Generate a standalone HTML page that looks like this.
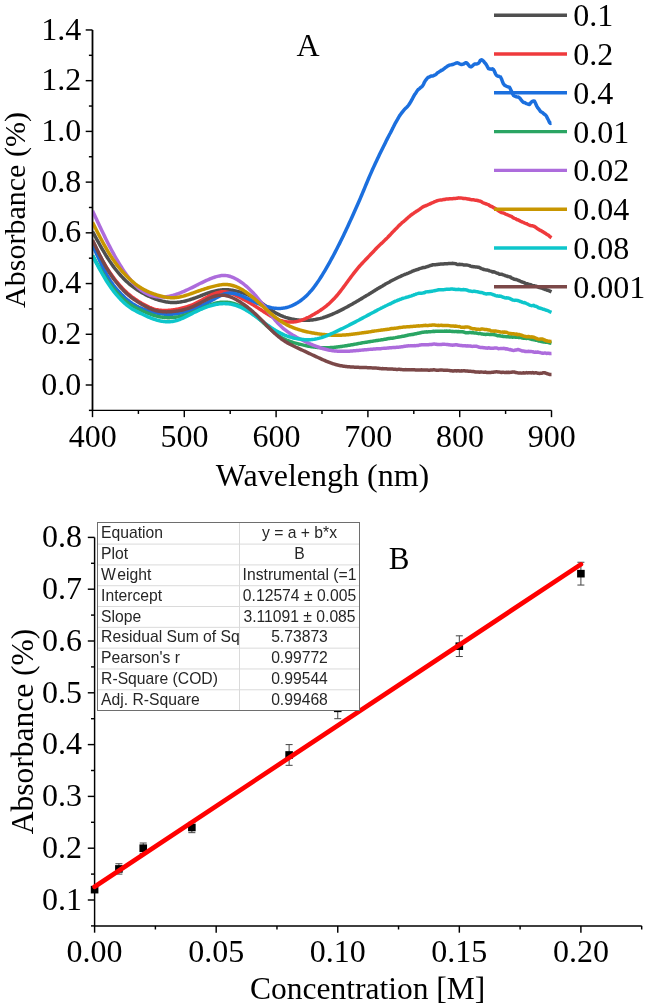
<!DOCTYPE html>
<html><head><meta charset="utf-8"><style>
html,body{margin:0;padding:0;background:#fff;width:646px;height:1008px;overflow:hidden}
svg{display:block;will-change:transform}

</style></head><body>
<svg width="646" height="1008" viewBox="0 0 646 1008"><g stroke="#000" stroke-width="1.45" fill="none" stroke-linecap="butt">
<path d="M92.5,29.96 L92.5,410.36 L551.5,410.36"/>
<path d="M88.90,410.36 H92.5"/>
<path d="M85.70,385.00 H92.5"/>
<path d="M88.90,359.64 H92.5"/>
<path d="M85.70,334.28 H92.5"/>
<path d="M88.90,308.92 H92.5"/>
<path d="M85.70,283.56 H92.5"/>
<path d="M88.90,258.20 H92.5"/>
<path d="M85.70,232.84 H92.5"/>
<path d="M88.90,207.48 H92.5"/>
<path d="M85.70,182.12 H92.5"/>
<path d="M88.90,156.76 H92.5"/>
<path d="M85.70,131.40 H92.5"/>
<path d="M88.90,106.04 H92.5"/>
<path d="M85.70,80.68 H92.5"/>
<path d="M88.90,55.32 H92.5"/>
<path d="M85.70,29.96 H92.5"/>
<path d="M92.50,410.36 V417.16"/>
<path d="M138.40,410.36 V413.96"/>
<path d="M184.30,410.36 V417.16"/>
<path d="M230.20,410.36 V413.96"/>
<path d="M276.10,410.36 V417.16"/>
<path d="M322.00,410.36 V413.96"/>
<path d="M367.90,410.36 V417.16"/>
<path d="M413.80,410.36 V413.96"/>
<path d="M459.70,410.36 V417.16"/>
<path d="M505.60,410.36 V413.96"/>
<path d="M551.50,410.36 V417.16"/>
</g>
<text x="81.3" y="394.60" font-family="&quot;Liberation Serif&quot;, serif" fill="#000" font-size="32" text-anchor="end">0.0</text>
<text x="81.3" y="343.88" font-family="&quot;Liberation Serif&quot;, serif" fill="#000" font-size="32" text-anchor="end">0.2</text>
<text x="81.3" y="293.16" font-family="&quot;Liberation Serif&quot;, serif" fill="#000" font-size="32" text-anchor="end">0.4</text>
<text x="81.3" y="242.44" font-family="&quot;Liberation Serif&quot;, serif" fill="#000" font-size="32" text-anchor="end">0.6</text>
<text x="81.3" y="191.72" font-family="&quot;Liberation Serif&quot;, serif" fill="#000" font-size="32" text-anchor="end">0.8</text>
<text x="81.3" y="141.00" font-family="&quot;Liberation Serif&quot;, serif" fill="#000" font-size="32" text-anchor="end">1.0</text>
<text x="81.3" y="90.28" font-family="&quot;Liberation Serif&quot;, serif" fill="#000" font-size="32" text-anchor="end">1.2</text>
<text x="81.3" y="39.56" font-family="&quot;Liberation Serif&quot;, serif" fill="#000" font-size="32" text-anchor="end">1.4</text>
<text x="92.80" y="447.4" font-family="&quot;Liberation Serif&quot;, serif" fill="#000" font-size="32" text-anchor="middle">400</text>
<text x="184.60" y="447.4" font-family="&quot;Liberation Serif&quot;, serif" fill="#000" font-size="32" text-anchor="middle">500</text>
<text x="276.40" y="447.4" font-family="&quot;Liberation Serif&quot;, serif" fill="#000" font-size="32" text-anchor="middle">600</text>
<text x="368.20" y="447.4" font-family="&quot;Liberation Serif&quot;, serif" fill="#000" font-size="32" text-anchor="middle">700</text>
<text x="460.00" y="447.4" font-family="&quot;Liberation Serif&quot;, serif" fill="#000" font-size="32" text-anchor="middle">800</text>
<text x="551.80" y="447.4" font-family="&quot;Liberation Serif&quot;, serif" fill="#000" font-size="32" text-anchor="middle">900</text>
<text x="322.5" y="485.7" font-family="&quot;Liberation Serif&quot;, serif" fill="#000" font-size="32" text-anchor="middle">Wavelengh (nm)</text>
<text transform="translate(25,210) rotate(-90)" x="0" y="0" font-family="&quot;Liberation Serif&quot;, serif" fill="#000" font-size="30" text-anchor="middle">Absorbance (%)</text>
<text x="308" y="56.4" font-family="&quot;Liberation Serif&quot;, serif" fill="#000" font-size="32" text-anchor="middle">A</text>
<defs><clipPath id="cpA"><rect x="92.5" y="0" width="470" height="420"/></clipPath></defs>
<g fill="none" stroke-width="3.5" stroke-linejoin="round" stroke-linecap="butt" clip-path="url(#cpA)">
<path stroke="#4f4f4f" d="M92.5,231.47 L93.5,233.32 L94.5,235.17 L95.5,237.01 L96.5,238.84 L97.5,240.66 L98.5,242.47 L99.5,244.27 L100.5,246.04 L101.5,247.80 L102.5,249.53 L103.5,251.24 L104.5,252.93 L105.5,254.58 L106.5,256.21 L107.5,257.80 L108.5,259.36 L109.5,260.89 L110.5,262.37 L111.5,263.82 L112.5,265.23 L113.5,266.61 L114.5,267.94 L115.5,269.25 L116.5,270.52 L117.5,271.75 L118.5,272.95 L119.5,274.12 L120.5,275.25 L121.5,276.36 L122.5,277.43 L123.5,278.47 L124.5,279.48 L125.5,280.46 L126.5,281.41 L127.5,282.33 L128.5,283.22 L129.5,284.07 L130.5,284.90 L131.5,285.70 L132.5,286.47 L133.5,287.21 L134.5,287.93 L135.5,288.63 L136.5,289.30 L137.5,289.96 L138.5,290.59 L139.5,291.21 L140.5,291.81 L141.5,292.39 L142.5,292.96 L143.5,293.52 L144.5,294.06 L145.5,294.59 L146.5,295.09 L147.5,295.59 L148.5,296.07 L149.5,296.53 L150.5,296.98 L151.5,297.41 L152.5,297.83 L153.5,298.23 L154.5,298.62 L155.5,298.99 L156.5,299.34 L157.5,299.68 L158.5,300.00 L159.5,300.31 L160.5,300.60 L161.5,300.87 L162.5,301.12 L163.5,301.35 L164.5,301.56 L165.5,301.76 L166.5,301.93 L167.5,302.08 L168.5,302.21 L169.5,302.32 L170.5,302.40 L171.5,302.47 L172.5,302.51 L173.5,302.52 L174.5,302.52 L175.5,302.48 L176.5,302.43 L177.5,302.34 L178.5,302.24 L179.5,302.12 L180.5,301.97 L181.5,301.80 L182.5,301.62 L183.5,301.41 L184.5,301.19 L185.5,300.95 L186.5,300.69 L187.5,300.42 L188.5,300.13 L189.5,299.83 L190.5,299.52 L191.5,299.20 L192.5,298.86 L193.5,298.51 L194.5,298.16 L195.5,297.79 L196.5,297.42 L197.5,297.04 L198.5,296.66 L199.5,296.27 L200.5,295.89 L201.5,295.50 L202.5,295.11 L203.5,294.73 L204.5,294.35 L205.5,293.97 L206.5,293.61 L207.5,293.25 L208.5,292.90 L209.5,292.56 L210.5,292.24 L211.5,291.93 L212.5,291.63 L213.5,291.35 L214.5,291.10 L215.5,290.86 L216.5,290.64 L217.5,290.45 L218.5,290.27 L219.5,290.12 L220.5,290.00 L221.5,289.89 L222.5,289.81 L223.5,289.76 L224.5,289.73 L225.5,289.72 L226.5,289.74 L227.5,289.79 L228.5,289.85 L229.5,289.95 L230.5,290.06 L231.5,290.19 L232.5,290.35 L233.5,290.52 L234.5,290.71 L235.5,290.92 L236.5,291.15 L237.5,291.40 L238.5,291.66 L239.5,291.93 L240.5,292.22 L241.5,292.52 L242.5,292.84 L243.5,293.18 L244.5,293.53 L245.5,293.90 L246.5,294.28 L247.5,294.69 L248.5,295.12 L249.5,295.58 L250.5,296.05 L251.5,296.55 L252.5,297.08 L253.5,297.63 L254.5,298.20 L255.5,298.81 L256.5,299.45 L257.5,300.10 L258.5,300.78 L259.5,301.48 L260.5,302.20 L261.5,302.92 L262.5,303.66 L263.5,304.40 L264.5,305.15 L265.5,305.90 L266.5,306.64 L267.5,307.39 L268.5,308.12 L269.5,308.84 L270.5,309.55 L271.5,310.25 L272.5,310.92 L273.5,311.57 L274.5,312.20 L275.5,312.80 L276.5,313.37 L277.5,313.91 L278.5,314.42 L279.5,314.91 L280.5,315.37 L281.5,315.80 L282.5,316.21 L283.5,316.60 L284.5,316.96 L285.5,317.31 L286.5,317.63 L287.5,317.93 L288.5,318.21 L289.5,318.47 L290.5,318.71 L291.5,318.94 L292.5,319.15 L293.5,319.34 L294.5,319.51 L295.5,319.67 L296.5,319.81 L297.5,319.94 L298.5,320.04 L299.5,320.13 L300.5,320.21 L301.5,320.27 L302.5,320.31 L303.5,320.34 L304.5,320.36 L305.5,320.35 L306.5,320.34 L307.5,320.30 L308.5,320.25 L309.5,320.19 L310.5,320.11 L311.5,320.01 L312.5,319.90 L313.5,319.77 L314.5,319.62 L315.5,319.46 L316.5,319.28 L317.5,319.08 L318.5,318.86 L319.5,318.63 L320.5,318.38 L321.5,318.10 L322.5,317.82 L323.5,317.51 L324.5,317.19 L325.5,316.85 L326.5,316.50 L327.5,316.13 L328.5,315.75 L329.5,315.36 L330.5,314.96 L331.5,314.54 L332.5,314.11 L333.5,313.68 L334.5,313.23 L335.5,312.77 L336.5,312.31 L337.5,311.83 L338.5,311.35 L339.5,310.86 L340.5,310.37 L341.5,309.86 L342.5,309.35 L343.5,308.83 L344.5,308.31 L345.5,307.78 L346.5,307.24 L347.5,306.70 L348.5,306.15 L349.5,305.59 L350.5,305.03 L351.5,304.47 L352.5,303.90 L353.5,303.32 L354.5,302.75 L355.5,302.16 L356.5,301.59 L357.5,300.99 L358.5,300.41 L359.5,299.81 L360.5,299.22 L361.5,298.63 L362.5,298.02 L363.5,297.38 L364.5,296.77 L365.5,296.15 L366.5,295.51 L367.5,294.97 L368.5,294.39 L369.5,293.77 L370.5,293.17 L371.5,292.59 L372.5,291.93 L373.5,291.34 L374.5,290.70 L375.5,290.08 L376.5,289.45 L377.5,288.80 L378.5,288.20 L379.5,287.65 L380.5,287.12 L381.5,286.48 L382.5,285.92 L383.5,285.28 L384.5,284.67 L385.5,284.02 L386.5,283.50 L387.5,282.98 L388.5,282.46 L389.5,281.93 L390.5,281.33 L391.5,280.78 L392.5,280.24 L393.5,279.73 L394.5,279.24 L395.5,278.72 L396.5,278.22 L397.5,277.72 L398.5,277.23 L399.5,276.77 L400.5,276.39 L401.5,275.91 L402.5,275.48 L403.5,275.02 L404.5,274.54 L405.5,274.10 L406.5,273.81 L407.5,273.39 L408.5,273.02 L409.5,272.55 L410.5,272.21 L411.5,271.69 L412.5,271.19 L413.5,270.78 L414.5,270.51 L415.5,270.08 L416.5,269.76 L417.5,269.58 L418.5,269.19 L419.5,268.67 L420.5,268.38 L421.5,268.07 L422.5,267.77 L423.5,267.48 L424.5,267.43 L425.5,267.22 L426.5,266.83 L427.5,266.56 L428.5,266.25 L429.5,265.79 L430.5,265.44 L431.5,265.28 L432.5,264.83 L433.5,264.74 L434.5,264.74 L435.5,264.70 L436.5,264.59 L437.5,264.49 L438.5,264.25 L439.5,264.16 L440.5,264.00 L441.5,263.96 L442.5,263.98 L443.5,264.02 L444.5,263.85 L445.5,263.69 L446.5,263.63 L447.5,263.64 L448.5,263.58 L449.5,263.61 L450.5,263.59 L451.5,263.39 L452.5,263.35 L453.5,263.40 L454.5,263.62 L455.5,263.69 L456.5,264.17 L457.5,264.47 L458.5,264.48 L459.5,264.32 L460.5,264.49 L461.5,264.59 L462.5,264.60 L463.5,264.92 L464.5,265.07 L465.5,264.95 L466.5,264.88 L467.5,265.10 L468.5,265.34 L469.5,265.61 L470.5,266.10 L471.5,266.47 L472.5,266.57 L473.5,266.79 L474.5,266.86 L475.5,266.94 L476.5,266.88 L477.5,267.20 L478.5,267.22 L479.5,267.63 L480.5,268.08 L481.5,268.53 L482.5,268.91 L483.5,269.45 L484.5,269.60 L485.5,269.86 L486.5,270.07 L487.5,270.04 L488.5,270.38 L489.5,270.90 L490.5,271.15 L491.5,271.43 L492.5,271.94 L493.5,271.85 L494.5,272.02 L495.5,272.55 L496.5,273.06 L497.5,273.21 L498.5,273.62 L499.5,274.27 L500.5,274.22 L501.5,274.32 L502.5,274.57 L503.5,275.03 L504.5,275.13 L505.5,275.84 L506.5,275.89 L507.5,276.46 L508.5,276.50 L509.5,276.90 L510.5,277.05 L511.5,278.04 L512.5,278.41 L513.5,278.85 L514.5,279.29 L515.5,279.50 L516.5,279.54 L517.5,279.99 L518.5,280.56 L519.5,280.79 L520.5,281.30 L521.5,281.78 L522.5,282.10 L523.5,282.41 L524.5,282.84 L525.5,283.38 L526.5,283.65 L527.5,283.73 L528.5,284.26 L529.5,284.44 L530.5,284.69 L531.5,285.16 L532.5,285.51 L533.5,285.69 L534.5,285.80 L535.5,286.15 L536.5,286.28 L537.5,286.77 L538.5,287.14 L539.5,287.61 L540.5,287.85 L541.5,288.14 L542.5,288.44 L543.5,288.82 L544.5,289.26 L545.5,289.55 L546.5,289.83 L547.5,290.28 L548.5,290.45 L549.5,291.02 L550.5,291.36 L551.5,291.83"/>
<path stroke="#ef3a3c" d="M92.5,240.83 L93.5,242.90 L94.5,244.97 L95.5,247.02 L96.5,249.05 L97.5,251.06 L98.5,253.04 L99.5,254.98 L100.5,256.88 L101.5,258.72 L102.5,260.53 L103.5,262.29 L104.5,264.00 L105.5,265.68 L106.5,267.31 L107.5,268.90 L108.5,270.45 L109.5,271.96 L110.5,273.43 L111.5,274.86 L112.5,276.26 L113.5,277.61 L114.5,278.94 L115.5,280.23 L116.5,281.48 L117.5,282.70 L118.5,283.89 L119.5,285.05 L120.5,286.18 L121.5,287.27 L122.5,288.34 L123.5,289.38 L124.5,290.38 L125.5,291.35 L126.5,292.29 L127.5,293.21 L128.5,294.08 L129.5,294.93 L130.5,295.75 L131.5,296.53 L132.5,297.29 L133.5,298.02 L134.5,298.73 L135.5,299.42 L136.5,300.08 L137.5,300.73 L138.5,301.36 L139.5,301.98 L140.5,302.58 L141.5,303.18 L142.5,303.76 L143.5,304.32 L144.5,304.87 L145.5,305.40 L146.5,305.91 L147.5,306.40 L148.5,306.87 L149.5,307.32 L150.5,307.73 L151.5,308.13 L152.5,308.49 L153.5,308.82 L154.5,309.12 L155.5,309.39 L156.5,309.63 L157.5,309.83 L158.5,310.01 L159.5,310.15 L160.5,310.27 L161.5,310.36 L162.5,310.42 L163.5,310.46 L164.5,310.47 L165.5,310.47 L166.5,310.44 L167.5,310.39 L168.5,310.33 L169.5,310.25 L170.5,310.15 L171.5,310.03 L172.5,309.91 L173.5,309.77 L174.5,309.62 L175.5,309.46 L176.5,309.29 L177.5,309.11 L178.5,308.92 L179.5,308.71 L180.5,308.50 L181.5,308.27 L182.5,308.03 L183.5,307.78 L184.5,307.51 L185.5,307.23 L186.5,306.93 L187.5,306.61 L188.5,306.28 L189.5,305.93 L190.5,305.56 L191.5,305.17 L192.5,304.76 L193.5,304.33 L194.5,303.88 L195.5,303.41 L196.5,302.92 L197.5,302.41 L198.5,301.89 L199.5,301.35 L200.5,300.80 L201.5,300.25 L202.5,299.69 L203.5,299.13 L204.5,298.57 L205.5,298.02 L206.5,297.47 L207.5,296.93 L208.5,296.41 L209.5,295.89 L210.5,295.40 L211.5,294.92 L212.5,294.47 L213.5,294.04 L214.5,293.64 L215.5,293.27 L216.5,292.94 L217.5,292.64 L218.5,292.38 L219.5,292.16 L220.5,291.98 L221.5,291.85 L222.5,291.77 L223.5,291.75 L224.5,291.77 L225.5,291.86 L226.5,292.00 L227.5,292.19 L228.5,292.43 L229.5,292.72 L230.5,293.04 L231.5,293.41 L232.5,293.81 L233.5,294.24 L234.5,294.69 L235.5,295.17 L236.5,295.67 L237.5,296.18 L238.5,296.70 L239.5,297.23 L240.5,297.76 L241.5,298.30 L242.5,298.84 L243.5,299.38 L244.5,299.92 L245.5,300.47 L246.5,301.03 L247.5,301.59 L248.5,302.15 L249.5,302.73 L250.5,303.31 L251.5,303.89 L252.5,304.49 L253.5,305.10 L254.5,305.71 L255.5,306.34 L256.5,306.98 L257.5,307.62 L258.5,308.27 L259.5,308.92 L260.5,309.58 L261.5,310.24 L262.5,310.89 L263.5,311.55 L264.5,312.19 L265.5,312.83 L266.5,313.47 L267.5,314.09 L268.5,314.69 L269.5,315.29 L270.5,315.87 L271.5,316.43 L272.5,316.97 L273.5,317.48 L274.5,317.98 L275.5,318.45 L276.5,318.89 L277.5,319.30 L278.5,319.69 L279.5,320.05 L280.5,320.38 L281.5,320.68 L282.5,320.96 L283.5,321.20 L284.5,321.41 L285.5,321.60 L286.5,321.75 L287.5,321.87 L288.5,321.96 L289.5,322.02 L290.5,322.05 L291.5,322.04 L292.5,322.00 L293.5,321.93 L294.5,321.82 L295.5,321.68 L296.5,321.51 L297.5,321.30 L298.5,321.06 L299.5,320.79 L300.5,320.49 L301.5,320.17 L302.5,319.81 L303.5,319.44 L304.5,319.03 L305.5,318.61 L306.5,318.16 L307.5,317.69 L308.5,317.21 L309.5,316.70 L310.5,316.18 L311.5,315.64 L312.5,315.09 L313.5,314.52 L314.5,313.94 L315.5,313.36 L316.5,312.76 L317.5,312.14 L318.5,311.52 L319.5,310.87 L320.5,310.21 L321.5,309.53 L322.5,308.83 L323.5,308.11 L324.5,307.37 L325.5,306.60 L326.5,305.80 L327.5,304.97 L328.5,304.12 L329.5,303.23 L330.5,302.31 L331.5,301.35 L332.5,300.36 L333.5,299.33 L334.5,298.27 L335.5,297.16 L336.5,296.01 L337.5,294.82 L338.5,293.60 L339.5,292.35 L340.5,291.07 L341.5,289.78 L342.5,288.46 L343.5,287.12 L344.5,285.78 L345.5,284.42 L346.5,283.06 L347.5,281.69 L348.5,280.33 L349.5,278.97 L350.5,277.62 L351.5,276.28 L352.5,274.96 L353.5,273.65 L354.5,272.35 L355.5,271.07 L356.5,269.80 L357.5,268.56 L358.5,267.38 L359.5,266.23 L360.5,265.11 L361.5,264.04 L362.5,262.95 L363.5,261.90 L364.5,260.83 L365.5,259.80 L366.5,258.75 L367.5,257.72 L368.5,256.66 L369.5,255.63 L370.5,254.56 L371.5,253.54 L372.5,252.53 L373.5,251.48 L374.5,250.40 L375.5,249.30 L376.5,248.23 L377.5,247.15 L378.5,246.17 L379.5,245.20 L380.5,244.29 L381.5,243.36 L382.5,242.43 L383.5,241.45 L384.5,240.54 L385.5,239.57 L386.5,238.62 L387.5,237.62 L388.5,236.51 L389.5,235.46 L390.5,234.42 L391.5,233.30 L392.5,232.20 L393.5,231.30 L394.5,230.26 L395.5,229.17 L396.5,228.17 L397.5,227.19 L398.5,226.08 L399.5,225.13 L400.5,224.22 L401.5,223.32 L402.5,222.33 L403.5,221.61 L404.5,220.72 L405.5,219.88 L406.5,218.95 L407.5,218.15 L408.5,217.12 L409.5,216.35 L410.5,215.46 L411.5,214.72 L412.5,214.03 L413.5,213.32 L414.5,212.54 L415.5,212.00 L416.5,211.31 L417.5,210.68 L418.5,210.10 L419.5,209.37 L420.5,208.57 L421.5,207.83 L422.5,207.15 L423.5,206.65 L424.5,206.20 L425.5,205.77 L426.5,205.49 L427.5,204.97 L428.5,204.45 L429.5,204.11 L430.5,203.56 L431.5,203.07 L432.5,202.70 L433.5,202.27 L434.5,201.70 L435.5,201.42 L436.5,200.98 L437.5,200.68 L438.5,200.37 L439.5,200.12 L440.5,200.00 L441.5,199.90 L442.5,199.75 L443.5,199.57 L444.5,199.56 L445.5,199.10 L446.5,198.92 L447.5,198.88 L448.5,198.96 L449.5,198.75 L450.5,198.84 L451.5,198.86 L452.5,198.66 L453.5,198.50 L454.5,198.38 L455.5,198.42 L456.5,198.32 L457.5,198.22 L458.5,197.86 L459.5,198.02 L460.5,198.00 L461.5,198.10 L462.5,198.14 L463.5,198.60 L464.5,198.58 L465.5,198.58 L466.5,198.66 L467.5,198.95 L468.5,198.96 L469.5,199.27 L470.5,199.58 L471.5,199.66 L472.5,199.69 L473.5,199.85 L474.5,200.02 L475.5,200.14 L476.5,200.24 L477.5,200.48 L478.5,200.78 L479.5,201.00 L480.5,201.23 L481.5,201.81 L482.5,202.47 L483.5,203.02 L484.5,203.18 L485.5,203.73 L486.5,203.99 L487.5,204.42 L488.5,204.71 L489.5,205.54 L490.5,206.14 L491.5,206.51 L492.5,206.89 L493.5,207.65 L494.5,208.13 L495.5,208.61 L496.5,209.34 L497.5,210.07 L498.5,210.80 L499.5,211.36 L500.5,211.94 L501.5,212.63 L502.5,212.87 L503.5,213.07 L504.5,213.41 L505.5,214.08 L506.5,214.45 L507.5,214.82 L508.5,215.24 L509.5,215.80 L510.5,216.08 L511.5,216.40 L512.5,217.32 L513.5,217.91 L514.5,218.32 L515.5,218.67 L516.5,219.45 L517.5,219.69 L518.5,220.14 L519.5,220.62 L520.5,221.17 L521.5,221.70 L522.5,222.17 L523.5,222.42 L524.5,223.01 L525.5,223.46 L526.5,223.62 L527.5,224.22 L528.5,224.77 L529.5,225.24 L530.5,225.49 L531.5,225.71 L532.5,225.72 L533.5,226.27 L534.5,226.51 L535.5,227.18 L536.5,228.04 L537.5,228.66 L538.5,229.38 L539.5,229.89 L540.5,230.49 L541.5,230.87 L542.5,231.66 L543.5,232.16 L544.5,232.88 L545.5,233.36 L546.5,234.18 L547.5,234.75 L548.5,235.34 L549.5,236.33 L550.5,237.06 L551.5,237.69"/>
<path stroke="#1b6fde" d="M92.5,244.97 L93.5,247.19 L94.5,249.39 L95.5,251.59 L96.5,253.78 L97.5,255.96 L98.5,258.12 L99.5,260.26 L100.5,262.37 L101.5,264.45 L102.5,266.50 L103.5,268.50 L104.5,270.46 L105.5,272.37 L106.5,274.22 L107.5,276.01 L108.5,277.73 L109.5,279.37 L110.5,280.94 L111.5,282.43 L112.5,283.85 L113.5,285.21 L114.5,286.50 L115.5,287.74 L116.5,288.94 L117.5,290.08 L118.5,291.19 L119.5,292.27 L120.5,293.32 L121.5,294.35 L122.5,295.35 L123.5,296.32 L124.5,297.26 L125.5,298.17 L126.5,299.05 L127.5,299.90 L128.5,300.71 L129.5,301.49 L130.5,302.23 L131.5,302.93 L132.5,303.61 L133.5,304.24 L134.5,304.85 L135.5,305.43 L136.5,305.99 L137.5,306.51 L138.5,307.02 L139.5,307.50 L140.5,307.97 L141.5,308.41 L142.5,308.84 L143.5,309.25 L144.5,309.64 L145.5,310.01 L146.5,310.37 L147.5,310.71 L148.5,311.03 L149.5,311.34 L150.5,311.63 L151.5,311.91 L152.5,312.17 L153.5,312.42 L154.5,312.65 L155.5,312.87 L156.5,313.07 L157.5,313.26 L158.5,313.43 L159.5,313.59 L160.5,313.73 L161.5,313.86 L162.5,313.97 L163.5,314.07 L164.5,314.15 L165.5,314.21 L166.5,314.26 L167.5,314.29 L168.5,314.30 L169.5,314.30 L170.5,314.28 L171.5,314.24 L172.5,314.18 L173.5,314.10 L174.5,314.00 L175.5,313.89 L176.5,313.75 L177.5,313.60 L178.5,313.43 L179.5,313.24 L180.5,313.04 L181.5,312.81 L182.5,312.57 L183.5,312.32 L184.5,312.05 L185.5,311.77 L186.5,311.47 L187.5,311.16 L188.5,310.83 L189.5,310.50 L190.5,310.15 L191.5,309.78 L192.5,309.41 L193.5,309.03 L194.5,308.63 L195.5,308.23 L196.5,307.82 L197.5,307.39 L198.5,306.96 L199.5,306.52 L200.5,306.07 L201.5,305.61 L202.5,305.14 L203.5,304.66 L204.5,304.18 L205.5,303.69 L206.5,303.18 L207.5,302.68 L208.5,302.16 L209.5,301.63 L210.5,301.10 L211.5,300.56 L212.5,300.01 L213.5,299.46 L214.5,298.90 L215.5,298.33 L216.5,297.76 L217.5,297.19 L218.5,296.64 L219.5,296.10 L220.5,295.59 L221.5,295.11 L222.5,294.66 L223.5,294.27 L224.5,293.93 L225.5,293.64 L226.5,293.42 L227.5,293.26 L228.5,293.16 L229.5,293.11 L230.5,293.11 L231.5,293.16 L232.5,293.26 L233.5,293.40 L234.5,293.59 L235.5,293.81 L236.5,294.07 L237.5,294.36 L238.5,294.68 L239.5,295.03 L240.5,295.41 L241.5,295.81 L242.5,296.23 L243.5,296.67 L244.5,297.12 L245.5,297.59 L246.5,298.07 L247.5,298.55 L248.5,299.04 L249.5,299.54 L250.5,300.03 L251.5,300.53 L252.5,301.01 L253.5,301.50 L254.5,301.97 L255.5,302.43 L256.5,302.87 L257.5,303.31 L258.5,303.73 L259.5,304.13 L260.5,304.52 L261.5,304.90 L262.5,305.26 L263.5,305.60 L264.5,305.93 L265.5,306.24 L266.5,306.53 L267.5,306.80 L268.5,307.06 L269.5,307.30 L270.5,307.52 L271.5,307.72 L272.5,307.89 L273.5,308.05 L274.5,308.18 L275.5,308.28 L276.5,308.36 L277.5,308.41 L278.5,308.43 L279.5,308.42 L280.5,308.38 L281.5,308.31 L282.5,308.20 L283.5,308.07 L284.5,307.90 L285.5,307.70 L286.5,307.46 L287.5,307.20 L288.5,306.90 L289.5,306.57 L290.5,306.20 L291.5,305.80 L292.5,305.37 L293.5,304.91 L294.5,304.42 L295.5,303.89 L296.5,303.32 L297.5,302.73 L298.5,302.10 L299.5,301.43 L300.5,300.72 L301.5,299.98 L302.5,299.20 L303.5,298.38 L304.5,297.51 L305.5,296.61 L306.5,295.66 L307.5,294.67 L308.5,293.64 L309.5,292.56 L310.5,291.44 L311.5,290.27 L312.5,289.06 L313.5,287.81 L314.5,286.51 L315.5,285.16 L316.5,283.78 L317.5,282.34 L318.5,280.87 L319.5,279.35 L320.5,277.80 L321.5,276.22 L322.5,274.60 L323.5,272.96 L324.5,271.28 L325.5,269.58 L326.5,267.86 L327.5,266.12 L328.5,264.36 L329.5,262.57 L330.5,260.77 L331.5,258.94 L332.5,257.09 L333.5,255.23 L334.5,253.34 L335.5,251.43 L336.5,249.50 L337.5,247.55 L338.5,245.58 L339.5,243.59 L340.5,241.58 L341.5,239.55 L342.5,237.50 L343.5,235.43 L344.5,233.34 L345.5,231.22 L346.5,229.09 L347.5,226.94 L348.5,224.77 L349.5,222.58 L350.5,220.39 L351.5,218.19 L352.5,215.96 L353.5,213.74 L354.5,211.50 L355.5,209.27 L356.5,207.02 L357.5,204.76 L358.5,202.49 L359.5,200.19 L360.5,197.84 L361.5,195.49 L362.5,193.13 L363.5,190.73 L364.5,188.32 L365.5,185.91 L366.5,183.50 L367.5,181.10 L368.5,178.74 L369.5,176.38 L370.5,174.11 L371.5,171.84 L372.5,169.58 L373.5,167.36 L374.5,165.26 L375.5,163.09 L376.5,160.97 L377.5,158.82 L378.5,156.70 L379.5,154.57 L380.5,152.50 L381.5,150.50 L382.5,148.50 L383.5,146.54 L384.5,144.50 L385.5,142.38 L386.5,140.32 L387.5,138.40 L388.5,136.42 L389.5,134.54 L390.5,132.72 L391.5,130.68 L392.5,128.65 L393.5,126.77 L394.5,124.76 L395.5,122.76 L396.5,121.05 L397.5,119.34 L398.5,117.53 L399.5,115.87 L400.5,114.46 L401.5,113.14 L402.5,111.84 L403.5,110.60 L404.5,109.42 L405.5,108.32 L406.5,107.46 L407.5,106.49 L408.5,105.26 L409.5,103.85 L410.5,102.20 L411.5,100.32 L412.5,98.54 L413.5,96.64 L414.5,94.86 L415.5,93.42 L416.5,91.90 L417.5,90.40 L418.5,89.29 L419.5,88.54 L420.5,87.71 L421.5,86.90 L422.5,85.93 L423.5,84.29 L424.5,82.03 L425.5,80.31 L426.5,79.21 L427.5,77.94 L428.5,77.22 L429.5,76.88 L430.5,76.39 L431.5,75.94 L432.5,76.01 L433.5,75.62 L434.5,75.19 L435.5,74.74 L436.5,73.91 L437.5,72.82 L438.5,72.24 L439.5,71.60 L440.5,71.03 L441.5,70.26 L442.5,69.97 L443.5,69.13 L444.5,68.38 L445.5,67.48 L446.5,66.93 L447.5,66.13 L448.5,65.67 L449.5,65.20 L450.5,64.89 L451.5,64.73 L452.5,64.46 L453.5,64.22 L454.5,63.75 L455.5,63.34 L456.5,62.96 L457.5,62.83 L458.5,63.12 L459.5,63.83 L460.5,64.24 L461.5,64.53 L462.5,64.24 L463.5,64.03 L464.5,63.28 L465.5,62.85 L466.5,62.69 L467.5,63.77 L468.5,64.90 L469.5,66.22 L470.5,66.82 L471.5,66.67 L472.5,65.93 L473.5,64.86 L474.5,63.98 L475.5,64.07 L476.5,63.92 L477.5,63.80 L478.5,63.27 L479.5,61.96 L480.5,60.20 L481.5,59.68 L482.5,60.29 L483.5,61.07 L484.5,62.49 L485.5,63.51 L486.5,65.03 L487.5,66.88 L488.5,68.58 L489.5,69.01 L490.5,69.03 L491.5,69.14 L492.5,68.79 L493.5,69.64 L494.5,71.46 L495.5,73.80 L496.5,75.41 L497.5,75.94 L498.5,76.22 L499.5,76.59 L500.5,76.93 L501.5,78.93 L502.5,81.78 L503.5,83.94 L504.5,85.13 L505.5,85.68 L506.5,86.24 L507.5,86.70 L508.5,87.01 L509.5,87.25 L510.5,89.18 L511.5,91.22 L512.5,93.62 L513.5,95.50 L514.5,96.07 L515.5,96.45 L516.5,96.89 L517.5,97.10 L518.5,97.10 L519.5,97.89 L520.5,99.01 L521.5,100.43 L522.5,101.53 L523.5,102.47 L524.5,102.42 L525.5,103.14 L526.5,103.56 L527.5,103.88 L528.5,104.24 L529.5,104.52 L530.5,103.05 L531.5,101.89 L532.5,101.30 L533.5,100.96 L534.5,101.28 L535.5,103.27 L536.5,105.67 L537.5,107.50 L538.5,108.61 L539.5,109.98 L540.5,111.44 L541.5,112.06 L542.5,112.50 L543.5,113.59 L544.5,114.40 L545.5,114.96 L546.5,116.29 L547.5,118.47 L548.5,120.25 L549.5,122.42 L550.5,123.38 L551.5,123.26"/>
<path stroke="#2aa563" d="M92.5,255.37 L93.5,257.17 L94.5,258.97 L95.5,260.77 L96.5,262.55 L97.5,264.32 L98.5,266.08 L99.5,267.81 L100.5,269.51 L101.5,271.20 L102.5,272.85 L103.5,274.47 L104.5,276.06 L105.5,277.61 L106.5,279.13 L107.5,280.61 L108.5,282.06 L109.5,283.46 L110.5,284.82 L111.5,286.13 L112.5,287.41 L113.5,288.65 L114.5,289.84 L115.5,291.01 L116.5,292.14 L117.5,293.23 L118.5,294.29 L119.5,295.33 L120.5,296.33 L121.5,297.31 L122.5,298.25 L123.5,299.17 L124.5,300.05 L125.5,300.90 L126.5,301.72 L127.5,302.50 L128.5,303.24 L129.5,303.95 L130.5,304.62 L131.5,305.26 L132.5,305.86 L133.5,306.44 L134.5,306.98 L135.5,307.51 L136.5,308.02 L137.5,308.51 L138.5,308.99 L139.5,309.47 L140.5,309.94 L141.5,310.40 L142.5,310.86 L143.5,311.31 L144.5,311.76 L145.5,312.20 L146.5,312.62 L147.5,313.04 L148.5,313.44 L149.5,313.83 L150.5,314.21 L151.5,314.57 L152.5,314.92 L153.5,315.24 L154.5,315.55 L155.5,315.83 L156.5,316.10 L157.5,316.34 L158.5,316.57 L159.5,316.77 L160.5,316.95 L161.5,317.11 L162.5,317.25 L163.5,317.37 L164.5,317.47 L165.5,317.55 L166.5,317.60 L167.5,317.64 L168.5,317.65 L169.5,317.65 L170.5,317.62 L171.5,317.58 L172.5,317.51 L173.5,317.43 L174.5,317.32 L175.5,317.19 L176.5,317.04 L177.5,316.88 L178.5,316.69 L179.5,316.49 L180.5,316.26 L181.5,316.02 L182.5,315.77 L183.5,315.50 L184.5,315.21 L185.5,314.91 L186.5,314.59 L187.5,314.26 L188.5,313.91 L189.5,313.56 L190.5,313.19 L191.5,312.80 L192.5,312.41 L193.5,312.01 L194.5,311.60 L195.5,311.18 L196.5,310.74 L197.5,310.31 L198.5,309.87 L199.5,309.42 L200.5,308.98 L201.5,308.53 L202.5,308.09 L203.5,307.65 L204.5,307.21 L205.5,306.78 L206.5,306.36 L207.5,305.96 L208.5,305.56 L209.5,305.18 L210.5,304.81 L211.5,304.46 L212.5,304.13 L213.5,303.82 L214.5,303.53 L215.5,303.27 L216.5,303.03 L217.5,302.82 L218.5,302.64 L219.5,302.48 L220.5,302.35 L221.5,302.25 L222.5,302.18 L223.5,302.14 L224.5,302.14 L225.5,302.16 L226.5,302.22 L227.5,302.30 L228.5,302.42 L229.5,302.57 L230.5,302.75 L231.5,302.96 L232.5,303.20 L233.5,303.46 L234.5,303.76 L235.5,304.08 L236.5,304.43 L237.5,304.80 L238.5,305.21 L239.5,305.63 L240.5,306.09 L241.5,306.57 L242.5,307.07 L243.5,307.60 L244.5,308.15 L245.5,308.73 L246.5,309.33 L247.5,309.96 L248.5,310.60 L249.5,311.28 L250.5,311.97 L251.5,312.69 L252.5,313.43 L253.5,314.20 L254.5,314.99 L255.5,315.80 L256.5,316.63 L257.5,317.48 L258.5,318.35 L259.5,319.23 L260.5,320.12 L261.5,321.03 L262.5,321.94 L263.5,322.85 L264.5,323.77 L265.5,324.69 L266.5,325.61 L267.5,326.52 L268.5,327.42 L269.5,328.32 L270.5,329.20 L271.5,330.07 L272.5,330.93 L273.5,331.76 L274.5,332.58 L275.5,333.37 L276.5,334.13 L277.5,334.87 L278.5,335.58 L279.5,336.25 L280.5,336.89 L281.5,337.50 L282.5,338.07 L283.5,338.61 L284.5,339.11 L285.5,339.59 L286.5,340.05 L287.5,340.47 L288.5,340.87 L289.5,341.25 L290.5,341.61 L291.5,341.95 L292.5,342.28 L293.5,342.58 L294.5,342.87 L295.5,343.15 L296.5,343.42 L297.5,343.68 L298.5,343.93 L299.5,344.18 L300.5,344.42 L301.5,344.66 L302.5,344.89 L303.5,345.11 L304.5,345.34 L305.5,345.55 L306.5,345.76 L307.5,345.96 L308.5,346.16 L309.5,346.34 L310.5,346.52 L311.5,346.69 L312.5,346.84 L313.5,346.99 L314.5,347.13 L315.5,347.25 L316.5,347.37 L317.5,347.47 L318.5,347.55 L319.5,347.63 L320.5,347.69 L321.5,347.73 L322.5,347.77 L323.5,347.79 L324.5,347.79 L325.5,347.79 L326.5,347.77 L327.5,347.74 L328.5,347.70 L329.5,347.66 L330.5,347.60 L331.5,347.53 L332.5,347.45 L333.5,347.37 L334.5,347.27 L335.5,347.17 L336.5,347.06 L337.5,346.95 L338.5,346.83 L339.5,346.70 L340.5,346.57 L341.5,346.43 L342.5,346.29 L343.5,346.14 L344.5,345.99 L345.5,345.84 L346.5,345.68 L347.5,345.51 L348.5,345.35 L349.5,345.18 L350.5,345.01 L351.5,344.83 L352.5,344.66 L353.5,344.48 L354.5,344.30 L355.5,344.12 L356.5,343.94 L357.5,343.76 L358.5,343.59 L359.5,343.40 L360.5,343.19 L361.5,343.00 L362.5,342.80 L363.5,342.63 L364.5,342.44 L365.5,342.32 L366.5,342.16 L367.5,342.01 L368.5,341.86 L369.5,341.75 L370.5,341.54 L371.5,341.39 L372.5,341.24 L373.5,341.08 L374.5,340.88 L375.5,340.74 L376.5,340.60 L377.5,340.46 L378.5,340.29 L379.5,340.13 L380.5,340.00 L381.5,339.82 L382.5,339.66 L383.5,339.52 L384.5,339.33 L385.5,339.19 L386.5,338.96 L387.5,338.73 L388.5,338.58 L389.5,338.43 L390.5,338.28 L391.5,338.24 L392.5,338.17 L393.5,338.00 L394.5,337.87 L395.5,337.66 L396.5,337.39 L397.5,337.25 L398.5,337.03 L399.5,336.90 L400.5,336.72 L401.5,336.56 L402.5,336.32 L403.5,336.24 L404.5,336.03 L405.5,335.80 L406.5,335.56 L407.5,335.27 L408.5,335.06 L409.5,334.86 L410.5,334.73 L411.5,334.55 L412.5,334.53 L413.5,334.21 L414.5,334.02 L415.5,333.83 L416.5,333.67 L417.5,333.29 L418.5,333.19 L419.5,332.92 L420.5,332.69 L421.5,332.47 L422.5,332.30 L423.5,332.19 L424.5,332.02 L425.5,331.88 L426.5,331.84 L427.5,331.89 L428.5,331.79 L429.5,331.73 L430.5,331.75 L431.5,331.62 L432.5,331.43 L433.5,331.30 L434.5,331.49 L435.5,331.33 L436.5,331.28 L437.5,331.34 L438.5,331.32 L439.5,331.31 L440.5,331.23 L441.5,331.34 L442.5,331.18 L443.5,331.37 L444.5,331.09 L445.5,331.19 L446.5,331.07 L447.5,331.28 L448.5,331.19 L449.5,331.07 L450.5,331.18 L451.5,331.38 L452.5,331.37 L453.5,331.47 L454.5,331.64 L455.5,331.43 L456.5,331.50 L457.5,331.73 L458.5,331.57 L459.5,331.65 L460.5,331.84 L461.5,331.71 L462.5,331.69 L463.5,331.93 L464.5,332.31 L465.5,332.67 L466.5,332.78 L467.5,332.85 L468.5,332.66 L469.5,332.58 L470.5,332.57 L471.5,332.69 L472.5,332.48 L473.5,332.79 L474.5,333.04 L475.5,333.01 L476.5,333.02 L477.5,333.41 L478.5,333.66 L479.5,333.45 L480.5,333.57 L481.5,333.99 L482.5,334.06 L483.5,334.15 L484.5,334.33 L485.5,334.42 L486.5,334.20 L487.5,334.13 L488.5,334.33 L489.5,334.40 L490.5,334.37 L491.5,334.56 L492.5,334.60 L493.5,334.54 L494.5,334.82 L495.5,334.91 L496.5,335.22 L497.5,335.79 L498.5,335.65 L499.5,335.71 L500.5,336.00 L501.5,336.14 L502.5,336.11 L503.5,336.54 L504.5,336.59 L505.5,336.59 L506.5,336.83 L507.5,336.62 L508.5,336.73 L509.5,336.95 L510.5,337.02 L511.5,336.79 L512.5,337.26 L513.5,336.92 L514.5,337.01 L515.5,337.20 L516.5,337.29 L517.5,336.97 L518.5,337.45 L519.5,337.30 L520.5,337.59 L521.5,337.59 L522.5,338.07 L523.5,338.20 L524.5,338.21 L525.5,338.20 L526.5,338.51 L527.5,338.20 L528.5,338.25 L529.5,338.82 L530.5,338.91 L531.5,339.27 L532.5,339.60 L533.5,339.63 L534.5,339.76 L535.5,340.14 L536.5,340.10 L537.5,340.43 L538.5,340.94 L539.5,340.93 L540.5,341.32 L541.5,341.58 L542.5,341.82 L543.5,341.89 L544.5,342.10 L545.5,342.15 L546.5,342.17 L547.5,342.31 L548.5,342.55 L549.5,342.98 L550.5,342.97 L551.5,343.23"/>
<path stroke="#ad6cdc" d="M92.5,210.84 L93.5,212.97 L94.5,215.10 L95.5,217.23 L96.5,219.36 L97.5,221.48 L98.5,223.60 L99.5,225.71 L100.5,227.82 L101.5,229.91 L102.5,232.00 L103.5,234.07 L104.5,236.13 L105.5,238.17 L106.5,240.19 L107.5,242.19 L108.5,244.17 L109.5,246.12 L110.5,248.05 L111.5,249.95 L112.5,251.82 L113.5,253.67 L114.5,255.48 L115.5,257.26 L116.5,259.02 L117.5,260.74 L118.5,262.43 L119.5,264.09 L120.5,265.71 L121.5,267.30 L122.5,268.86 L123.5,270.38 L124.5,271.86 L125.5,273.31 L126.5,274.71 L127.5,276.07 L128.5,277.39 L129.5,278.67 L130.5,279.90 L131.5,281.09 L132.5,282.23 L133.5,283.32 L134.5,284.37 L135.5,285.38 L136.5,286.34 L137.5,287.26 L138.5,288.13 L139.5,288.96 L140.5,289.74 L141.5,290.48 L142.5,291.17 L143.5,291.83 L144.5,292.44 L145.5,293.01 L146.5,293.53 L147.5,294.02 L148.5,294.47 L149.5,294.88 L150.5,295.26 L151.5,295.59 L152.5,295.89 L153.5,296.15 L154.5,296.38 L155.5,296.58 L156.5,296.74 L157.5,296.87 L158.5,296.96 L159.5,297.03 L160.5,297.06 L161.5,297.07 L162.5,297.05 L163.5,297.00 L164.5,296.92 L165.5,296.82 L166.5,296.69 L167.5,296.54 L168.5,296.37 L169.5,296.17 L170.5,295.95 L171.5,295.71 L172.5,295.45 L173.5,295.18 L174.5,294.88 L175.5,294.57 L176.5,294.24 L177.5,293.89 L178.5,293.53 L179.5,293.16 L180.5,292.77 L181.5,292.37 L182.5,291.95 L183.5,291.53 L184.5,291.10 L185.5,290.65 L186.5,290.20 L187.5,289.73 L188.5,289.26 L189.5,288.79 L190.5,288.30 L191.5,287.81 L192.5,287.32 L193.5,286.82 L194.5,286.32 L195.5,285.82 L196.5,285.31 L197.5,284.81 L198.5,284.30 L199.5,283.80 L200.5,283.30 L201.5,282.81 L202.5,282.31 L203.5,281.83 L204.5,281.35 L205.5,280.89 L206.5,280.43 L207.5,279.98 L208.5,279.54 L209.5,279.12 L210.5,278.72 L211.5,278.32 L212.5,277.95 L213.5,277.59 L214.5,277.25 L215.5,276.93 L216.5,276.64 L217.5,276.37 L218.5,276.12 L219.5,275.92 L220.5,275.74 L221.5,275.61 L222.5,275.51 L223.5,275.47 L224.5,275.47 L225.5,275.52 L226.5,275.63 L227.5,275.79 L228.5,276.00 L229.5,276.25 L230.5,276.55 L231.5,276.90 L232.5,277.29 L233.5,277.72 L234.5,278.19 L235.5,278.70 L236.5,279.25 L237.5,279.83 L238.5,280.44 L239.5,281.09 L240.5,281.76 L241.5,282.46 L242.5,283.20 L243.5,283.96 L244.5,284.75 L245.5,285.57 L246.5,286.43 L247.5,287.31 L248.5,288.22 L249.5,289.16 L250.5,290.14 L251.5,291.14 L252.5,292.18 L253.5,293.25 L254.5,294.35 L255.5,295.48 L256.5,296.65 L257.5,297.84 L258.5,299.05 L259.5,300.29 L260.5,301.54 L261.5,302.81 L262.5,304.10 L263.5,305.39 L264.5,306.69 L265.5,307.99 L266.5,309.29 L267.5,310.59 L268.5,311.88 L269.5,313.17 L270.5,314.44 L271.5,315.70 L272.5,316.94 L273.5,318.16 L274.5,319.35 L275.5,320.52 L276.5,321.66 L277.5,322.76 L278.5,323.83 L279.5,324.86 L280.5,325.84 L281.5,326.79 L282.5,327.69 L283.5,328.56 L284.5,329.39 L285.5,330.18 L286.5,330.94 L287.5,331.67 L288.5,332.37 L289.5,333.04 L290.5,333.69 L291.5,334.32 L292.5,334.92 L293.5,335.51 L294.5,336.08 L295.5,336.63 L296.5,337.17 L297.5,337.70 L298.5,338.22 L299.5,338.74 L300.5,339.25 L301.5,339.75 L302.5,340.25 L303.5,340.75 L304.5,341.24 L305.5,341.72 L306.5,342.19 L307.5,342.66 L308.5,343.12 L309.5,343.58 L310.5,344.02 L311.5,344.45 L312.5,344.88 L313.5,345.29 L314.5,345.69 L315.5,346.09 L316.5,346.47 L317.5,346.83 L318.5,347.19 L319.5,347.53 L320.5,347.86 L321.5,348.17 L322.5,348.47 L323.5,348.76 L324.5,349.03 L325.5,349.29 L326.5,349.53 L327.5,349.75 L328.5,349.97 L329.5,350.16 L330.5,350.35 L331.5,350.51 L332.5,350.66 L333.5,350.80 L334.5,350.92 L335.5,351.02 L336.5,351.11 L337.5,351.19 L338.5,351.25 L339.5,351.30 L340.5,351.33 L341.5,351.35 L342.5,351.36 L343.5,351.36 L344.5,351.35 L345.5,351.33 L346.5,351.30 L347.5,351.26 L348.5,351.21 L349.5,351.15 L350.5,351.09 L351.5,351.02 L352.5,350.94 L353.5,350.86 L354.5,350.77 L355.5,350.69 L356.5,350.60 L357.5,350.52 L358.5,350.42 L359.5,350.33 L360.5,350.23 L361.5,350.12 L362.5,350.01 L363.5,349.94 L364.5,349.83 L365.5,349.75 L366.5,349.66 L367.5,349.57 L368.5,349.45 L369.5,349.37 L370.5,349.29 L371.5,349.26 L372.5,349.17 L373.5,349.11 L374.5,349.04 L375.5,348.94 L376.5,348.80 L377.5,348.83 L378.5,348.76 L379.5,348.72 L380.5,348.65 L381.5,348.53 L382.5,348.38 L383.5,348.30 L384.5,348.19 L385.5,348.14 L386.5,348.13 L387.5,347.98 L388.5,347.94 L389.5,347.79 L390.5,347.76 L391.5,347.69 L392.5,347.62 L393.5,347.45 L394.5,347.48 L395.5,347.38 L396.5,347.32 L397.5,347.28 L398.5,347.16 L399.5,347.08 L400.5,346.93 L401.5,346.77 L402.5,346.63 L403.5,346.57 L404.5,346.31 L405.5,346.20 L406.5,346.08 L407.5,345.97 L408.5,345.78 L409.5,345.88 L410.5,345.73 L411.5,345.69 L412.5,345.64 L413.5,345.72 L414.5,345.62 L415.5,345.64 L416.5,345.58 L417.5,345.44 L418.5,345.39 L419.5,345.07 L420.5,344.94 L421.5,344.83 L422.5,344.84 L423.5,344.72 L424.5,344.84 L425.5,344.84 L426.5,344.76 L427.5,344.67 L428.5,344.67 L429.5,344.55 L430.5,344.54 L431.5,344.49 L432.5,344.29 L433.5,344.10 L434.5,344.08 L435.5,344.13 L436.5,344.26 L437.5,344.57 L438.5,344.57 L439.5,344.62 L440.5,344.49 L441.5,344.44 L442.5,344.30 L443.5,344.27 L444.5,344.29 L445.5,344.37 L446.5,344.43 L447.5,344.41 L448.5,344.70 L449.5,344.80 L450.5,344.97 L451.5,345.10 L452.5,345.21 L453.5,344.91 L454.5,344.97 L455.5,344.79 L456.5,344.69 L457.5,344.94 L458.5,345.33 L459.5,345.33 L460.5,345.60 L461.5,345.50 L462.5,345.68 L463.5,345.69 L464.5,345.72 L465.5,345.80 L466.5,346.10 L467.5,345.86 L468.5,345.98 L469.5,346.06 L470.5,346.00 L471.5,346.36 L472.5,346.38 L473.5,346.20 L474.5,346.22 L475.5,346.26 L476.5,346.27 L477.5,346.56 L478.5,347.05 L479.5,347.34 L480.5,347.43 L481.5,347.44 L482.5,347.52 L483.5,347.76 L484.5,347.78 L485.5,347.99 L486.5,348.06 L487.5,348.22 L488.5,347.77 L489.5,348.00 L490.5,348.25 L491.5,348.34 L492.5,348.15 L493.5,348.19 L494.5,348.05 L495.5,348.08 L496.5,348.10 L497.5,348.19 L498.5,348.72 L499.5,348.63 L500.5,348.39 L501.5,348.39 L502.5,348.54 L503.5,348.37 L504.5,348.43 L505.5,348.89 L506.5,348.80 L507.5,349.04 L508.5,349.36 L509.5,349.66 L510.5,349.62 L511.5,350.04 L512.5,350.31 L513.5,350.43 L514.5,350.31 L515.5,350.07 L516.5,349.91 L517.5,349.58 L518.5,349.61 L519.5,349.94 L520.5,350.29 L521.5,350.65 L522.5,351.08 L523.5,351.08 L524.5,351.22 L525.5,351.53 L526.5,351.40 L527.5,351.39 L528.5,351.36 L529.5,351.41 L530.5,351.40 L531.5,351.54 L532.5,351.63 L533.5,352.00 L534.5,352.16 L535.5,352.11 L536.5,352.14 L537.5,352.02 L538.5,352.29 L539.5,352.39 L540.5,352.68 L541.5,352.86 L542.5,353.24 L543.5,353.17 L544.5,353.10 L545.5,353.12 L546.5,353.43 L547.5,353.27 L548.5,353.15 L549.5,353.47 L550.5,353.60 L551.5,353.54"/>
<path stroke="#c89600" d="M92.5,222.35 L93.5,224.34 L94.5,226.32 L95.5,228.30 L96.5,230.27 L97.5,232.23 L98.5,234.17 L99.5,236.10 L100.5,238.01 L101.5,239.90 L102.5,241.77 L103.5,243.61 L104.5,245.42 L105.5,247.21 L106.5,248.96 L107.5,250.67 L108.5,252.35 L109.5,253.99 L110.5,255.59 L111.5,257.15 L112.5,258.67 L113.5,260.14 L114.5,261.58 L115.5,262.98 L116.5,264.34 L117.5,265.66 L118.5,266.95 L119.5,268.20 L120.5,269.41 L121.5,270.59 L122.5,271.74 L123.5,272.85 L124.5,273.93 L125.5,274.98 L126.5,276.01 L127.5,277.00 L128.5,277.97 L129.5,278.91 L130.5,279.83 L131.5,280.72 L132.5,281.59 L133.5,282.44 L134.5,283.25 L135.5,284.05 L136.5,284.81 L137.5,285.54 L138.5,286.25 L139.5,286.93 L140.5,287.58 L141.5,288.20 L142.5,288.79 L143.5,289.36 L144.5,289.90 L145.5,290.41 L146.5,290.91 L147.5,291.38 L148.5,291.83 L149.5,292.26 L150.5,292.67 L151.5,293.07 L152.5,293.45 L153.5,293.81 L154.5,294.17 L155.5,294.51 L156.5,294.84 L157.5,295.15 L158.5,295.45 L159.5,295.74 L160.5,296.01 L161.5,296.26 L162.5,296.50 L163.5,296.72 L164.5,296.92 L165.5,297.10 L166.5,297.26 L167.5,297.39 L168.5,297.50 L169.5,297.59 L170.5,297.66 L171.5,297.69 L172.5,297.71 L173.5,297.69 L174.5,297.65 L175.5,297.57 L176.5,297.47 L177.5,297.34 L178.5,297.18 L179.5,297.00 L180.5,296.80 L181.5,296.57 L182.5,296.33 L183.5,296.07 L184.5,295.79 L185.5,295.49 L186.5,295.19 L187.5,294.87 L188.5,294.54 L189.5,294.20 L190.5,293.85 L191.5,293.50 L192.5,293.15 L193.5,292.79 L194.5,292.43 L195.5,292.07 L196.5,291.72 L197.5,291.36 L198.5,291.01 L199.5,290.66 L200.5,290.32 L201.5,289.97 L202.5,289.64 L203.5,289.30 L204.5,288.98 L205.5,288.66 L206.5,288.34 L207.5,288.03 L208.5,287.73 L209.5,287.43 L210.5,287.15 L211.5,286.87 L212.5,286.60 L213.5,286.33 L214.5,286.08 L215.5,285.84 L216.5,285.61 L217.5,285.39 L218.5,285.19 L219.5,285.01 L220.5,284.86 L221.5,284.72 L222.5,284.62 L223.5,284.55 L224.5,284.50 L225.5,284.50 L226.5,284.53 L227.5,284.60 L228.5,284.70 L229.5,284.84 L230.5,285.02 L231.5,285.23 L232.5,285.48 L233.5,285.76 L234.5,286.08 L235.5,286.43 L236.5,286.82 L237.5,287.25 L238.5,287.70 L239.5,288.19 L240.5,288.72 L241.5,289.27 L242.5,289.86 L243.5,290.48 L244.5,291.13 L245.5,291.80 L246.5,292.50 L247.5,293.23 L248.5,293.97 L249.5,294.74 L250.5,295.53 L251.5,296.34 L252.5,297.16 L253.5,298.00 L254.5,298.86 L255.5,299.73 L256.5,300.60 L257.5,301.49 L258.5,302.39 L259.5,303.29 L260.5,304.20 L261.5,305.11 L262.5,306.03 L263.5,306.94 L264.5,307.86 L265.5,308.77 L266.5,309.67 L267.5,310.57 L268.5,311.47 L269.5,312.35 L270.5,313.22 L271.5,314.08 L272.5,314.93 L273.5,315.77 L274.5,316.58 L275.5,317.38 L276.5,318.16 L277.5,318.91 L278.5,319.65 L279.5,320.35 L280.5,321.04 L281.5,321.69 L282.5,322.32 L283.5,322.93 L284.5,323.51 L285.5,324.07 L286.5,324.60 L287.5,325.12 L288.5,325.61 L289.5,326.08 L290.5,326.53 L291.5,326.97 L292.5,327.38 L293.5,327.78 L294.5,328.16 L295.5,328.53 L296.5,328.88 L297.5,329.21 L298.5,329.54 L299.5,329.84 L300.5,330.14 L301.5,330.43 L302.5,330.70 L303.5,330.97 L304.5,331.22 L305.5,331.47 L306.5,331.70 L307.5,331.93 L308.5,332.14 L309.5,332.35 L310.5,332.55 L311.5,332.74 L312.5,332.92 L313.5,333.09 L314.5,333.26 L315.5,333.42 L316.5,333.58 L317.5,333.72 L318.5,333.86 L319.5,334.00 L320.5,334.13 L321.5,334.26 L322.5,334.38 L323.5,334.49 L324.5,334.60 L325.5,334.70 L326.5,334.79 L327.5,334.88 L328.5,334.96 L329.5,335.03 L330.5,335.09 L331.5,335.14 L332.5,335.19 L333.5,335.22 L334.5,335.25 L335.5,335.26 L336.5,335.26 L337.5,335.26 L338.5,335.25 L339.5,335.22 L340.5,335.19 L341.5,335.15 L342.5,335.10 L343.5,335.04 L344.5,334.98 L345.5,334.90 L346.5,334.82 L347.5,334.74 L348.5,334.65 L349.5,334.55 L350.5,334.45 L351.5,334.34 L352.5,334.23 L353.5,334.10 L354.5,333.98 L355.5,333.84 L356.5,333.70 L357.5,333.56 L358.5,333.43 L359.5,333.29 L360.5,333.14 L361.5,332.99 L362.5,332.83 L363.5,332.70 L364.5,332.55 L365.5,332.41 L366.5,332.30 L367.5,332.21 L368.5,332.02 L369.5,331.88 L370.5,331.71 L371.5,331.53 L372.5,331.28 L373.5,331.15 L374.5,330.99 L375.5,330.87 L376.5,330.76 L377.5,330.62 L378.5,330.46 L379.5,330.38 L380.5,330.20 L381.5,330.05 L382.5,329.96 L383.5,329.82 L384.5,329.65 L385.5,329.57 L386.5,329.47 L387.5,329.23 L388.5,329.17 L389.5,329.01 L390.5,328.79 L391.5,328.58 L392.5,328.57 L393.5,328.39 L394.5,328.27 L395.5,328.13 L396.5,328.06 L397.5,327.94 L398.5,327.75 L399.5,327.59 L400.5,327.49 L401.5,327.37 L402.5,327.18 L403.5,327.11 L404.5,327.02 L405.5,327.01 L406.5,326.86 L407.5,326.80 L408.5,326.77 L409.5,326.72 L410.5,326.55 L411.5,326.50 L412.5,326.38 L413.5,326.32 L414.5,326.26 L415.5,326.16 L416.5,326.05 L417.5,325.93 L418.5,325.86 L419.5,325.90 L420.5,325.86 L421.5,325.79 L422.5,325.67 L423.5,325.49 L424.5,325.40 L425.5,325.31 L426.5,325.38 L427.5,325.63 L428.5,325.45 L429.5,325.33 L430.5,325.32 L431.5,325.19 L432.5,324.91 L433.5,325.10 L434.5,325.02 L435.5,325.17 L436.5,325.35 L437.5,325.40 L438.5,325.32 L439.5,325.40 L440.5,325.32 L441.5,325.20 L442.5,325.44 L443.5,325.47 L444.5,325.50 L445.5,325.52 L446.5,325.55 L447.5,325.44 L448.5,325.60 L449.5,325.65 L450.5,325.88 L451.5,325.94 L452.5,325.89 L453.5,326.07 L454.5,326.24 L455.5,326.10 L456.5,326.14 L457.5,326.39 L458.5,326.60 L459.5,326.62 L460.5,326.95 L461.5,327.25 L462.5,327.36 L463.5,327.31 L464.5,327.38 L465.5,326.98 L466.5,326.89 L467.5,326.97 L468.5,327.15 L469.5,327.43 L470.5,328.06 L471.5,328.33 L472.5,328.67 L473.5,328.76 L474.5,328.83 L475.5,328.94 L476.5,329.18 L477.5,329.34 L478.5,329.31 L479.5,329.40 L480.5,329.26 L481.5,329.05 L482.5,329.04 L483.5,329.13 L484.5,329.46 L485.5,329.41 L486.5,329.51 L487.5,329.62 L488.5,330.01 L489.5,329.88 L490.5,330.60 L491.5,331.02 L492.5,331.02 L493.5,330.97 L494.5,331.24 L495.5,330.96 L496.5,331.14 L497.5,331.35 L498.5,331.58 L499.5,331.78 L500.5,332.00 L501.5,332.13 L502.5,332.04 L503.5,332.20 L504.5,331.92 L505.5,332.31 L506.5,332.22 L507.5,332.85 L508.5,333.12 L509.5,333.56 L510.5,333.45 L511.5,333.90 L512.5,333.70 L513.5,333.79 L514.5,333.96 L515.5,334.17 L516.5,334.06 L517.5,334.69 L518.5,334.50 L519.5,334.61 L520.5,334.91 L521.5,335.34 L522.5,335.51 L523.5,336.15 L524.5,336.34 L525.5,336.51 L526.5,336.71 L527.5,336.73 L528.5,336.47 L529.5,336.80 L530.5,337.03 L531.5,336.85 L532.5,336.89 L533.5,337.32 L534.5,337.56 L535.5,337.91 L536.5,338.49 L537.5,338.84 L538.5,339.08 L539.5,339.13 L540.5,339.01 L541.5,339.01 L542.5,339.10 L543.5,339.43 L544.5,340.01 L545.5,340.38 L546.5,340.77 L547.5,341.10 L548.5,341.20 L549.5,341.27 L550.5,341.39 L551.5,341.45"/>
<path stroke="#0dc6cb" d="M92.5,255.83 L93.5,257.72 L94.5,259.61 L95.5,261.49 L96.5,263.36 L97.5,265.22 L98.5,267.06 L99.5,268.89 L100.5,270.70 L101.5,272.49 L102.5,274.25 L103.5,275.98 L104.5,277.68 L105.5,279.35 L106.5,280.98 L107.5,282.56 L108.5,284.11 L109.5,285.61 L110.5,287.06 L111.5,288.46 L112.5,289.81 L113.5,291.12 L114.5,292.39 L115.5,293.61 L116.5,294.80 L117.5,295.95 L118.5,297.07 L119.5,298.16 L120.5,299.21 L121.5,300.24 L122.5,301.23 L123.5,302.19 L124.5,303.11 L125.5,304.00 L126.5,304.86 L127.5,305.67 L128.5,306.45 L129.5,307.18 L130.5,307.87 L131.5,308.52 L132.5,309.14 L133.5,309.72 L134.5,310.28 L135.5,310.82 L136.5,311.34 L137.5,311.84 L138.5,312.33 L139.5,312.82 L140.5,313.30 L141.5,313.78 L142.5,314.26 L143.5,314.74 L144.5,315.21 L145.5,315.68 L146.5,316.14 L147.5,316.59 L148.5,317.03 L149.5,317.45 L150.5,317.87 L151.5,318.27 L152.5,318.65 L153.5,319.02 L154.5,319.36 L155.5,319.69 L156.5,320.00 L157.5,320.28 L158.5,320.54 L159.5,320.78 L160.5,320.99 L161.5,321.18 L162.5,321.34 L163.5,321.48 L164.5,321.59 L165.5,321.67 L166.5,321.72 L167.5,321.75 L168.5,321.74 L169.5,321.70 L170.5,321.63 L171.5,321.53 L172.5,321.40 L173.5,321.23 L174.5,321.03 L175.5,320.79 L176.5,320.52 L177.5,320.22 L178.5,319.89 L179.5,319.53 L180.5,319.14 L181.5,318.73 L182.5,318.30 L183.5,317.85 L184.5,317.39 L185.5,316.91 L186.5,316.42 L187.5,315.91 L188.5,315.40 L189.5,314.89 L190.5,314.37 L191.5,313.85 L192.5,313.34 L193.5,312.82 L194.5,312.31 L195.5,311.81 L196.5,311.32 L197.5,310.84 L198.5,310.37 L199.5,309.91 L200.5,309.47 L201.5,309.03 L202.5,308.61 L203.5,308.20 L204.5,307.80 L205.5,307.42 L206.5,307.05 L207.5,306.70 L208.5,306.36 L209.5,306.04 L210.5,305.74 L211.5,305.46 L212.5,305.19 L213.5,304.94 L214.5,304.71 L215.5,304.50 L216.5,304.31 L217.5,304.15 L218.5,304.00 L219.5,303.88 L220.5,303.78 L221.5,303.70 L222.5,303.64 L223.5,303.61 L224.5,303.61 L225.5,303.63 L226.5,303.68 L227.5,303.75 L228.5,303.85 L229.5,303.98 L230.5,304.14 L231.5,304.32 L232.5,304.53 L233.5,304.76 L234.5,305.03 L235.5,305.32 L236.5,305.64 L237.5,305.99 L238.5,306.37 L239.5,306.78 L240.5,307.21 L241.5,307.68 L242.5,308.17 L243.5,308.69 L244.5,309.23 L245.5,309.79 L246.5,310.38 L247.5,310.98 L248.5,311.61 L249.5,312.25 L250.5,312.90 L251.5,313.57 L252.5,314.26 L253.5,314.95 L254.5,315.65 L255.5,316.36 L256.5,317.08 L257.5,317.80 L258.5,318.53 L259.5,319.26 L260.5,319.99 L261.5,320.73 L262.5,321.46 L263.5,322.19 L264.5,322.92 L265.5,323.64 L266.5,324.36 L267.5,325.07 L268.5,325.78 L269.5,326.47 L270.5,327.15 L271.5,327.83 L272.5,328.49 L273.5,329.13 L274.5,329.77 L275.5,330.38 L276.5,330.98 L277.5,331.56 L278.5,332.12 L279.5,332.65 L280.5,333.17 L281.5,333.66 L282.5,334.13 L283.5,334.58 L284.5,335.01 L285.5,335.41 L286.5,335.80 L287.5,336.16 L288.5,336.51 L289.5,336.83 L290.5,337.14 L291.5,337.42 L292.5,337.69 L293.5,337.94 L294.5,338.18 L295.5,338.39 L296.5,338.59 L297.5,338.78 L298.5,338.95 L299.5,339.10 L300.5,339.24 L301.5,339.36 L302.5,339.47 L303.5,339.56 L304.5,339.63 L305.5,339.69 L306.5,339.72 L307.5,339.74 L308.5,339.73 L309.5,339.71 L310.5,339.66 L311.5,339.59 L312.5,339.49 L313.5,339.37 L314.5,339.23 L315.5,339.06 L316.5,338.87 L317.5,338.66 L318.5,338.42 L319.5,338.17 L320.5,337.89 L321.5,337.59 L322.5,337.26 L323.5,336.92 L324.5,336.57 L325.5,336.19 L326.5,335.81 L327.5,335.40 L328.5,334.99 L329.5,334.56 L330.5,334.13 L331.5,333.68 L332.5,333.23 L333.5,332.77 L334.5,332.30 L335.5,331.83 L336.5,331.36 L337.5,330.88 L338.5,330.40 L339.5,329.92 L340.5,329.43 L341.5,328.94 L342.5,328.45 L343.5,327.96 L344.5,327.46 L345.5,326.96 L346.5,326.46 L347.5,325.95 L348.5,325.44 L349.5,324.93 L350.5,324.42 L351.5,323.91 L352.5,323.39 L353.5,322.87 L354.5,322.35 L355.5,321.83 L356.5,321.29 L357.5,320.75 L358.5,320.23 L359.5,319.67 L360.5,319.13 L361.5,318.63 L362.5,318.09 L363.5,317.56 L364.5,317.02 L365.5,316.51 L366.5,315.94 L367.5,315.40 L368.5,314.86 L369.5,314.34 L370.5,313.82 L371.5,313.30 L372.5,312.76 L373.5,312.25 L374.5,311.66 L375.5,311.12 L376.5,310.62 L377.5,310.06 L378.5,309.52 L379.5,309.03 L380.5,308.51 L381.5,307.94 L382.5,307.46 L383.5,306.95 L384.5,306.47 L385.5,305.90 L386.5,305.50 L387.5,305.02 L388.5,304.50 L389.5,304.08 L390.5,303.75 L391.5,303.12 L392.5,302.69 L393.5,302.17 L394.5,301.67 L395.5,301.17 L396.5,300.83 L397.5,300.37 L398.5,300.02 L399.5,299.63 L400.5,299.24 L401.5,298.88 L402.5,298.47 L403.5,298.13 L404.5,297.86 L405.5,297.56 L406.5,297.22 L407.5,297.01 L408.5,296.76 L409.5,296.45 L410.5,296.12 L411.5,295.82 L412.5,295.43 L413.5,295.13 L414.5,294.65 L415.5,294.37 L416.5,293.92 L417.5,293.66 L418.5,293.37 L419.5,293.30 L420.5,293.26 L421.5,293.28 L422.5,293.12 L423.5,292.80 L424.5,292.66 L425.5,292.09 L426.5,291.90 L427.5,291.66 L428.5,291.83 L429.5,291.53 L430.5,291.54 L431.5,291.29 L432.5,291.18 L433.5,290.91 L434.5,290.69 L435.5,290.45 L436.5,290.31 L437.5,290.09 L438.5,289.76 L439.5,289.71 L440.5,289.78 L441.5,289.85 L442.5,289.72 L443.5,289.66 L444.5,289.57 L445.5,289.40 L446.5,289.19 L447.5,289.26 L448.5,289.32 L449.5,289.36 L450.5,289.08 L451.5,289.04 L452.5,289.10 L453.5,289.21 L454.5,289.23 L455.5,289.42 L456.5,289.42 L457.5,289.43 L458.5,289.35 L459.5,289.38 L460.5,289.68 L461.5,289.71 L462.5,289.75 L463.5,289.59 L464.5,289.76 L465.5,289.78 L466.5,289.96 L467.5,290.17 L468.5,290.78 L469.5,290.96 L470.5,291.09 L471.5,291.32 L472.5,291.46 L473.5,291.33 L474.5,291.26 L475.5,291.40 L476.5,291.60 L477.5,291.80 L478.5,292.03 L479.5,292.21 L480.5,292.42 L481.5,292.54 L482.5,292.73 L483.5,293.18 L484.5,293.62 L485.5,293.72 L486.5,293.91 L487.5,293.83 L488.5,293.82 L489.5,293.75 L490.5,293.86 L491.5,293.98 L492.5,294.50 L493.5,294.74 L494.5,295.05 L495.5,295.60 L496.5,295.89 L497.5,295.87 L498.5,296.13 L499.5,296.08 L500.5,296.20 L501.5,296.53 L502.5,296.95 L503.5,297.23 L504.5,297.70 L505.5,297.90 L506.5,297.86 L507.5,297.99 L508.5,298.05 L509.5,298.41 L510.5,298.89 L511.5,299.43 L512.5,299.92 L513.5,300.13 L514.5,300.39 L515.5,300.20 L516.5,300.37 L517.5,300.40 L518.5,300.81 L519.5,301.08 L520.5,301.54 L521.5,301.82 L522.5,302.37 L523.5,302.65 L524.5,302.60 L525.5,303.04 L526.5,303.54 L527.5,303.87 L528.5,304.50 L529.5,305.05 L530.5,305.37 L531.5,305.63 L532.5,305.58 L533.5,305.33 L534.5,305.99 L535.5,306.19 L536.5,306.49 L537.5,307.07 L538.5,307.73 L539.5,307.96 L540.5,308.24 L541.5,308.60 L542.5,308.97 L543.5,309.21 L544.5,309.44 L545.5,309.97 L546.5,310.38 L547.5,310.53 L548.5,311.01 L549.5,311.53 L550.5,311.97 L551.5,312.38"/>
<path stroke="#7b4848" d="M92.5,239.99 L93.5,242.12 L94.5,244.25 L95.5,246.37 L96.5,248.48 L97.5,250.57 L98.5,252.63 L99.5,254.66 L100.5,256.65 L101.5,258.61 L102.5,260.53 L103.5,262.41 L104.5,264.25 L105.5,266.04 L106.5,267.78 L107.5,269.48 L108.5,271.13 L109.5,272.73 L110.5,274.27 L111.5,275.77 L112.5,277.21 L113.5,278.61 L114.5,279.96 L115.5,281.27 L116.5,282.54 L117.5,283.77 L118.5,284.97 L119.5,286.13 L120.5,287.25 L121.5,288.35 L122.5,289.41 L123.5,290.44 L124.5,291.44 L125.5,292.41 L126.5,293.35 L127.5,294.25 L128.5,295.12 L129.5,295.97 L130.5,296.78 L131.5,297.56 L132.5,298.31 L133.5,299.04 L134.5,299.74 L135.5,300.43 L136.5,301.09 L137.5,301.73 L138.5,302.36 L139.5,302.98 L140.5,303.58 L141.5,304.17 L142.5,304.74 L143.5,305.30 L144.5,305.85 L145.5,306.38 L146.5,306.89 L147.5,307.38 L148.5,307.85 L149.5,308.30 L150.5,308.72 L151.5,309.12 L152.5,309.50 L153.5,309.84 L154.5,310.16 L155.5,310.45 L156.5,310.71 L157.5,310.94 L158.5,311.15 L159.5,311.32 L160.5,311.47 L161.5,311.60 L162.5,311.70 L163.5,311.77 L164.5,311.83 L165.5,311.86 L166.5,311.88 L167.5,311.87 L168.5,311.84 L169.5,311.80 L170.5,311.74 L171.5,311.67 L172.5,311.57 L173.5,311.47 L174.5,311.35 L175.5,311.22 L176.5,311.08 L177.5,310.92 L178.5,310.76 L179.5,310.57 L180.5,310.38 L181.5,310.17 L182.5,309.94 L183.5,309.70 L184.5,309.45 L185.5,309.17 L186.5,308.88 L187.5,308.58 L188.5,308.25 L189.5,307.91 L190.5,307.54 L191.5,307.16 L192.5,306.76 L193.5,306.34 L194.5,305.89 L195.5,305.43 L196.5,304.94 L197.5,304.44 L198.5,303.92 L199.5,303.40 L200.5,302.86 L201.5,302.32 L202.5,301.78 L203.5,301.24 L204.5,300.71 L205.5,300.18 L206.5,299.66 L207.5,299.16 L208.5,298.67 L209.5,298.20 L210.5,297.76 L211.5,297.34 L212.5,296.95 L213.5,296.59 L214.5,296.27 L215.5,295.98 L216.5,295.74 L217.5,295.54 L218.5,295.37 L219.5,295.26 L220.5,295.18 L221.5,295.15 L222.5,295.16 L223.5,295.22 L224.5,295.33 L225.5,295.48 L226.5,295.68 L227.5,295.93 L228.5,296.21 L229.5,296.54 L230.5,296.91 L231.5,297.31 L232.5,297.75 L233.5,298.22 L234.5,298.72 L235.5,299.25 L236.5,299.81 L237.5,300.39 L238.5,300.99 L239.5,301.61 L240.5,302.26 L241.5,302.91 L242.5,303.59 L243.5,304.28 L244.5,305.00 L245.5,305.73 L246.5,306.47 L247.5,307.24 L248.5,308.03 L249.5,308.84 L250.5,309.66 L251.5,310.51 L252.5,311.38 L253.5,312.26 L254.5,313.17 L255.5,314.10 L256.5,315.05 L257.5,316.02 L258.5,317.00 L259.5,318.00 L260.5,319.01 L261.5,320.03 L262.5,321.05 L263.5,322.08 L264.5,323.12 L265.5,324.15 L266.5,325.18 L267.5,326.21 L268.5,327.23 L269.5,328.25 L270.5,329.25 L271.5,330.24 L272.5,331.22 L273.5,332.18 L274.5,333.12 L275.5,334.03 L276.5,334.93 L277.5,335.80 L278.5,336.64 L279.5,337.45 L280.5,338.23 L281.5,338.98 L282.5,339.70 L283.5,340.38 L284.5,341.04 L285.5,341.68 L286.5,342.29 L287.5,342.88 L288.5,343.45 L289.5,344.00 L290.5,344.53 L291.5,345.05 L292.5,345.56 L293.5,346.05 L294.5,346.54 L295.5,347.01 L296.5,347.48 L297.5,347.95 L298.5,348.41 L299.5,348.87 L300.5,349.34 L301.5,349.80 L302.5,350.27 L303.5,350.74 L304.5,351.20 L305.5,351.67 L306.5,352.14 L307.5,352.61 L308.5,353.08 L309.5,353.55 L310.5,354.02 L311.5,354.49 L312.5,354.96 L313.5,355.43 L314.5,355.89 L315.5,356.36 L316.5,356.82 L317.5,357.28 L318.5,357.74 L319.5,358.20 L320.5,358.66 L321.5,359.11 L322.5,359.56 L323.5,360.00 L324.5,360.44 L325.5,360.87 L326.5,361.29 L327.5,361.70 L328.5,362.10 L329.5,362.48 L330.5,362.86 L331.5,363.22 L332.5,363.56 L333.5,363.89 L334.5,364.20 L335.5,364.49 L336.5,364.76 L337.5,365.01 L338.5,365.24 L339.5,365.46 L340.5,365.66 L341.5,365.84 L342.5,366.01 L343.5,366.17 L344.5,366.31 L345.5,366.44 L346.5,366.56 L347.5,366.66 L348.5,366.76 L349.5,366.85 L350.5,366.93 L351.5,367.00 L352.5,367.06 L353.5,367.12 L354.5,367.17 L355.5,367.21 L356.5,367.27 L357.5,367.32 L358.5,367.37 L359.5,367.43 L360.5,367.45 L361.5,367.49 L362.5,367.48 L363.5,367.50 L364.5,367.52 L365.5,367.56 L366.5,367.61 L367.5,367.66 L368.5,367.71 L369.5,367.77 L370.5,367.83 L371.5,367.87 L372.5,367.95 L373.5,367.99 L374.5,367.99 L375.5,368.05 L376.5,368.12 L377.5,368.24 L378.5,368.33 L379.5,368.46 L380.5,368.58 L381.5,368.63 L382.5,368.61 L383.5,368.69 L384.5,368.76 L385.5,368.78 L386.5,368.82 L387.5,368.97 L388.5,369.01 L389.5,368.98 L390.5,368.99 L391.5,369.06 L392.5,369.05 L393.5,369.14 L394.5,369.27 L395.5,369.30 L396.5,369.42 L397.5,369.43 L398.5,369.35 L399.5,369.33 L400.5,369.47 L401.5,369.49 L402.5,369.63 L403.5,369.67 L404.5,369.72 L405.5,369.62 L406.5,369.63 L407.5,369.63 L408.5,369.70 L409.5,369.75 L410.5,369.87 L411.5,369.82 L412.5,369.72 L413.5,369.73 L414.5,369.81 L415.5,369.91 L416.5,369.95 L417.5,370.00 L418.5,370.05 L419.5,370.02 L420.5,369.93 L421.5,369.87 L422.5,369.90 L423.5,369.89 L424.5,369.94 L425.5,369.95 L426.5,370.00 L427.5,370.09 L428.5,370.22 L429.5,370.19 L430.5,370.06 L431.5,370.08 L432.5,369.89 L433.5,369.81 L434.5,369.83 L435.5,370.08 L436.5,370.17 L437.5,370.20 L438.5,370.18 L439.5,370.12 L440.5,369.96 L441.5,369.93 L442.5,370.12 L443.5,370.17 L444.5,370.21 L445.5,370.26 L446.5,370.25 L447.5,370.25 L448.5,370.38 L449.5,370.51 L450.5,370.69 L451.5,370.68 L452.5,370.96 L453.5,370.94 L454.5,370.71 L455.5,370.68 L456.5,370.96 L457.5,370.77 L458.5,370.65 L459.5,370.97 L460.5,370.91 L461.5,370.81 L462.5,370.89 L463.5,370.72 L464.5,370.73 L465.5,370.90 L466.5,371.01 L467.5,370.96 L468.5,371.33 L469.5,371.28 L470.5,371.24 L471.5,371.39 L472.5,371.41 L473.5,371.54 L474.5,371.71 L475.5,371.95 L476.5,371.88 L477.5,372.07 L478.5,372.07 L479.5,372.26 L480.5,372.09 L481.5,372.03 L482.5,372.12 L483.5,372.23 L484.5,372.18 L485.5,372.09 L486.5,372.48 L487.5,372.40 L488.5,372.58 L489.5,372.55 L490.5,372.58 L491.5,372.34 L492.5,372.30 L493.5,372.20 L494.5,371.88 L495.5,371.89 L496.5,371.65 L497.5,371.89 L498.5,371.95 L499.5,372.10 L500.5,372.29 L501.5,372.52 L502.5,372.29 L503.5,372.34 L504.5,372.41 L505.5,372.40 L506.5,372.31 L507.5,372.49 L508.5,372.24 L509.5,372.49 L510.5,372.37 L511.5,372.30 L512.5,372.08 L513.5,372.11 L514.5,371.93 L515.5,372.52 L516.5,372.59 L517.5,372.80 L518.5,372.89 L519.5,373.06 L520.5,372.89 L521.5,373.13 L522.5,373.02 L523.5,372.85 L524.5,372.93 L525.5,372.89 L526.5,372.62 L527.5,372.89 L528.5,372.82 L529.5,372.75 L530.5,372.79 L531.5,372.89 L532.5,372.53 L533.5,373.10 L534.5,372.91 L535.5,372.85 L536.5,372.81 L537.5,373.17 L538.5,373.23 L539.5,373.42 L540.5,373.28 L541.5,373.22 L542.5,372.94 L543.5,372.63 L544.5,372.78 L545.5,373.04 L546.5,373.44 L547.5,373.87 L548.5,374.05 L549.5,374.44 L550.5,374.40 L551.5,374.40"/>
</g>
<path d="M92.5,29.96 L92.5,410.36" stroke="#000" stroke-width="1.45"/>
<path d="M494,15.20 H567" stroke="#4f4f4f" stroke-width="3.4"/>
<text x="573.3" y="26.20" font-family="&quot;Liberation Serif&quot;, serif" fill="#000" font-size="32">0.1</text>
<path d="M494,54.00 H567" stroke="#ef3a3c" stroke-width="3.4"/>
<text x="573.3" y="65.00" font-family="&quot;Liberation Serif&quot;, serif" fill="#000" font-size="32">0.2</text>
<path d="M494,92.80 H567" stroke="#1b6fde" stroke-width="3.4"/>
<text x="573.3" y="103.80" font-family="&quot;Liberation Serif&quot;, serif" fill="#000" font-size="32">0.4</text>
<path d="M494,131.60 H567" stroke="#2aa563" stroke-width="3.4"/>
<text x="573.3" y="142.60" font-family="&quot;Liberation Serif&quot;, serif" fill="#000" font-size="32">0.01</text>
<path d="M494,170.40 H567" stroke="#ad6cdc" stroke-width="3.4"/>
<text x="573.3" y="181.40" font-family="&quot;Liberation Serif&quot;, serif" fill="#000" font-size="32">0.02</text>
<path d="M494,209.20 H567" stroke="#c89600" stroke-width="3.4"/>
<text x="573.3" y="220.20" font-family="&quot;Liberation Serif&quot;, serif" fill="#000" font-size="32">0.04</text>
<path d="M494,248.00 H567" stroke="#0dc6cb" stroke-width="3.4"/>
<text x="573.3" y="259.00" font-family="&quot;Liberation Serif&quot;, serif" fill="#000" font-size="32">0.08</text>
<path d="M494,286.80 H567" stroke="#7b4848" stroke-width="3.4"/>
<text x="573.3" y="297.80" font-family="&quot;Liberation Serif&quot;, serif" fill="#000" font-size="32">0.001</text>
<g stroke="#000" stroke-width="1.45" fill="none">
<path d="M94.6,537.40 L94.6,925.90 L641.69,925.90"/>
<path d="M91.00,925.90 H94.6"/>
<path d="M87.80,900.00 H94.6"/>
<path d="M91.00,874.10 H94.6"/>
<path d="M87.80,848.20 H94.6"/>
<path d="M91.00,822.30 H94.6"/>
<path d="M87.80,796.40 H94.6"/>
<path d="M91.00,770.50 H94.6"/>
<path d="M87.80,744.60 H94.6"/>
<path d="M91.00,718.70 H94.6"/>
<path d="M87.80,692.80 H94.6"/>
<path d="M91.00,666.90 H94.6"/>
<path d="M87.80,641.00 H94.6"/>
<path d="M91.00,615.10 H94.6"/>
<path d="M87.80,589.20 H94.6"/>
<path d="M91.00,563.30 H94.6"/>
<path d="M87.80,537.40 H94.6"/>
<path d="M94.60,925.90 V932.70"/>
<path d="M155.39,925.90 V929.50"/>
<path d="M216.18,925.90 V932.70"/>
<path d="M276.96,925.90 V929.50"/>
<path d="M337.75,925.90 V932.70"/>
<path d="M398.54,925.90 V929.50"/>
<path d="M459.33,925.90 V932.70"/>
<path d="M520.11,925.90 V929.50"/>
<path d="M580.90,925.90 V932.70"/>
<path d="M641.69,925.90 V929.50"/>
</g>
<text x="82" y="909.80" font-family="&quot;Liberation Serif&quot;, serif" fill="#000" font-size="32" text-anchor="end">0.1</text>
<text x="82" y="858.00" font-family="&quot;Liberation Serif&quot;, serif" fill="#000" font-size="32" text-anchor="end">0.2</text>
<text x="82" y="806.20" font-family="&quot;Liberation Serif&quot;, serif" fill="#000" font-size="32" text-anchor="end">0.3</text>
<text x="82" y="754.40" font-family="&quot;Liberation Serif&quot;, serif" fill="#000" font-size="32" text-anchor="end">0.4</text>
<text x="82" y="702.60" font-family="&quot;Liberation Serif&quot;, serif" fill="#000" font-size="32" text-anchor="end">0.5</text>
<text x="82" y="650.80" font-family="&quot;Liberation Serif&quot;, serif" fill="#000" font-size="32" text-anchor="end">0.6</text>
<text x="82" y="599.00" font-family="&quot;Liberation Serif&quot;, serif" fill="#000" font-size="32" text-anchor="end">0.7</text>
<text x="82" y="547.20" font-family="&quot;Liberation Serif&quot;, serif" fill="#000" font-size="32" text-anchor="end">0.8</text>
<text x="94.60" y="962.3" font-family="&quot;Liberation Serif&quot;, serif" fill="#000" font-size="32" text-anchor="middle">0.00</text>
<text x="216.18" y="962.3" font-family="&quot;Liberation Serif&quot;, serif" fill="#000" font-size="32" text-anchor="middle">0.05</text>
<text x="337.75" y="962.3" font-family="&quot;Liberation Serif&quot;, serif" fill="#000" font-size="32" text-anchor="middle">0.10</text>
<text x="459.33" y="962.3" font-family="&quot;Liberation Serif&quot;, serif" fill="#000" font-size="32" text-anchor="middle">0.15</text>
<text x="580.90" y="962.3" font-family="&quot;Liberation Serif&quot;, serif" fill="#000" font-size="32" text-anchor="middle">0.20</text>
<text x="367.6" y="999.1" font-family="&quot;Liberation Serif&quot;, serif" fill="#000" font-size="31.5" text-anchor="middle">Concentration [M]</text>
<text transform="translate(33,731.5) rotate(-90)" x="0" y="0" font-family="&quot;Liberation Serif&quot;, serif" fill="#000" font-size="31.5" text-anchor="middle">Absorbance (%)</text>
<text x="399" y="569" font-family="&quot;Liberation Serif&quot;, serif" fill="#000" font-size="31" text-anchor="middle">B</text>
<g stroke="#444" stroke-width="1" fill="none">
<path d="M118.91,863.74 V874.10 M115.41,863.74 H122.41 M115.41,874.10 H122.41"/>
<path d="M143.23,843.02 V853.38 M139.73,843.02 H146.73 M139.73,853.38 H146.73"/>
<path d="M191.86,822.30 V832.66 M188.36,822.30 H195.36 M188.36,832.66 H195.36"/>
<path d="M289.12,744.60 V765.32 M285.62,744.60 H292.62 M285.62,765.32 H292.62"/>
<path d="M337.75,697.98 V718.70 M334.25,697.98 H341.25 M334.25,718.70 H341.25"/>
<path d="M459.32,635.82 V656.54 M455.82,635.82 H462.82 M455.82,656.54 H462.82"/>
<path d="M580.90,562.26 V585.06 M577.40,562.26 H584.40 M577.40,585.06 H584.40"/>
</g>
<rect x="90.80" y="885.84" width="7.6" height="7.6" fill="#000"/>
<rect x="115.11" y="865.12" width="7.6" height="7.6" fill="#000"/>
<rect x="139.43" y="844.40" width="7.6" height="7.6" fill="#000"/>
<rect x="188.06" y="823.68" width="7.6" height="7.6" fill="#000"/>
<rect x="285.32" y="751.16" width="7.6" height="7.6" fill="#000"/>
<rect x="333.95" y="704.54" width="7.6" height="7.6" fill="#000"/>
<rect x="455.52" y="642.38" width="7.6" height="7.6" fill="#000"/>
<rect x="577.10" y="569.86" width="7.6" height="7.6" fill="#000"/>
<path d="M94.60,886.67 L580.90,564.38" stroke="#ff0000" stroke-width="4.7" stroke-linecap="round"/>
<rect x="97.5" y="522.9" width="262.00" height="187.68" fill="#fff"/>
<g stroke="#dadada" stroke-width="1">
<path d="M97.5,544.10 H359.5"/>
<path d="M97.5,564.91 H359.5"/>
<path d="M97.5,585.72 H359.5"/>
<path d="M97.5,606.53 H359.5"/>
<path d="M97.5,627.34 H359.5"/>
<path d="M97.5,648.15 H359.5"/>
<path d="M97.5,668.96 H359.5"/>
<path d="M97.5,689.77 H359.5"/>
<path d="M239.5,522.9 V710.58"/>
</g>
<rect x="97.5" y="522.5" width="262" height="188" fill="none" stroke="#6e6e6e" stroke-width="1"/>
<text x="101.1" y="538.40" font-family="&quot;Liberation Sans&quot;, sans-serif" fill="#262626" font-size="15.7">Equation</text>
<text x="299.50" y="538.40" font-family="&quot;Liberation Sans&quot;, sans-serif" fill="#262626" font-size="15.7" text-anchor="middle">y = a + b*x</text>
<text x="101.1" y="559.21" font-family="&quot;Liberation Sans&quot;, sans-serif" fill="#262626" font-size="15.7">Plot</text>
<text x="299.50" y="559.21" font-family="&quot;Liberation Sans&quot;, sans-serif" fill="#262626" font-size="15.7" text-anchor="middle">B</text>
<text x="101.1" y="580.02" font-family="&quot;Liberation Sans&quot;, sans-serif" fill="#262626" font-size="15.7">W<tspan dx="1.6">eight</tspan></text>
<text x="299.50" y="580.02" font-family="&quot;Liberation Sans&quot;, sans-serif" fill="#262626" font-size="15.7" text-anchor="middle">Instrumental (=1</text>
<text x="101.1" y="600.83" font-family="&quot;Liberation Sans&quot;, sans-serif" fill="#262626" font-size="15.7">Intercept</text>
<text x="299.50" y="600.83" font-family="&quot;Liberation Sans&quot;, sans-serif" fill="#262626" font-size="15.7" text-anchor="middle">0.12574 ± 0.005</text>
<text x="101.1" y="621.64" font-family="&quot;Liberation Sans&quot;, sans-serif" fill="#262626" font-size="15.7">Slope</text>
<text x="299.50" y="621.64" font-family="&quot;Liberation Sans&quot;, sans-serif" fill="#262626" font-size="15.7" text-anchor="middle">3.11091 ± 0.085</text>
<text x="101.1" y="642.45" font-family="&quot;Liberation Sans&quot;, sans-serif" fill="#262626" font-size="15.7">Residual Sum of Sq</text>
<text x="299.50" y="642.45" font-family="&quot;Liberation Sans&quot;, sans-serif" fill="#262626" font-size="15.7" text-anchor="middle">5.73873</text>
<text x="101.1" y="663.26" font-family="&quot;Liberation Sans&quot;, sans-serif" fill="#262626" font-size="15.7">Pearson's r</text>
<text x="299.50" y="663.26" font-family="&quot;Liberation Sans&quot;, sans-serif" fill="#262626" font-size="15.7" text-anchor="middle">0.99772</text>
<text x="101.1" y="684.07" font-family="&quot;Liberation Sans&quot;, sans-serif" fill="#262626" font-size="15.7">R-Square (COD)</text>
<text x="299.50" y="684.07" font-family="&quot;Liberation Sans&quot;, sans-serif" fill="#262626" font-size="15.7" text-anchor="middle">0.99544</text>
<text x="101.1" y="704.88" font-family="&quot;Liberation Sans&quot;, sans-serif" fill="#262626" font-size="15.7">Adj. R-Square</text>
<text x="299.50" y="704.88" font-family="&quot;Liberation Sans&quot;, sans-serif" fill="#262626" font-size="15.7" text-anchor="middle">0.99468</text></svg>
</body></html>
